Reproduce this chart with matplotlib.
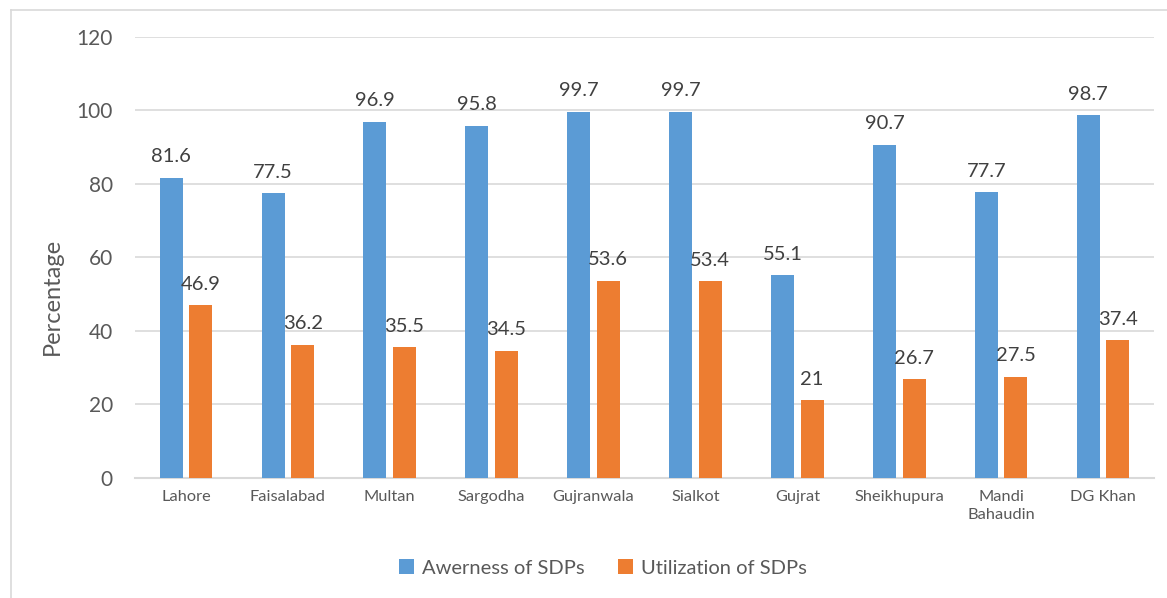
import numpy as np
import matplotlib
matplotlib.use("Agg")
from matplotlib import pyplot as plt
from matplotlib.lines import Line2D

districts = ["Lahore", "Faisalabad", "Multan", "Sargodha", "Gujranwala",
             "Sialkot", "Gujrat", "Sheikhupura", "Mandi\nBahaudin", "DG Khan"]
awareness = [81.6, 77.5, 96.9, 95.8, 99.7, 99.7, 55.1, 90.7, 77.7, 98.7]
utilization = [46.9, 36.2, 35.5, 34.5, 53.6, 53.4, 21, 26.7, 27.5, 37.4]
yticks = [0, 20, 40, 60, 80, 100, 120]

blue = "#5b9bd5"
orange = "#ed7d31"
grey = "#595959"
plt.rcParams['font.family'] = ['Lato', 'DejaVu Sans']

W, H = 1167, 598
fig = plt.figure(figsize=(W / 100, H / 100), dpi=100)
ax = fig.add_axes([135 / W, 1 - 477.5 / H, (1154 - 135) / W, (477.5 - 37) / H])

x = np.arange(len(districts))
bw = 0.226
off = 0.145
b1 = ax.bar(x - off, awareness, bw, color=blue, label="Awerness of SDPs", zorder=3)
b2 = ax.bar(x + off, utilization, bw, color=orange, label="Utilization of SDPs", zorder=3)

for bars, vals in ((b1, awareness), (b2, utilization)):
    for r, v in zip(bars, vals):
        ax.annotate(f"{v:g}", (r.get_x() + r.get_width() / 2, v),
                    xytext=(0, 9), textcoords="offset points",
                    ha="center", va="bottom", fontsize=14.5, color="#404040")

ax.set_xlim(-0.5, len(districts) - 0.5)
ax.set_ylim(0, 120)
ax.set_yticks(yticks)
ax.set_xticks(x)
ax.set_xticklabels(districts, fontsize=11.8, color=grey, linespacing=1.35)
ax.tick_params(axis="y", labelsize=15, labelcolor=grey, length=0, pad=16)
ax.tick_params(axis="x", length=0, pad=9)
ax.grid(axis="y", color="#d9d9d9", linewidth=1.2, zorder=0)
for s in ("top", "right", "left"):
    ax.spines[s].set_visible(False)
ax.spines["bottom"].set_color("#d9d9d9")
ax.spines["bottom"].set_linewidth(1.5)
ax.set_ylabel("Percentage", fontsize=17, color=grey, va="center")
ax.yaxis.set_label_coords(-0.081, 0.41)

fig.legend(handles=[b1, b2], loc="center", bbox_to_anchor=(603 / W, 1 - 568 / H),
           ncol=2, frameon=False, fontsize=14.5, labelcolor=grey,
           handlelength=0.7, handleheight=0.7, columnspacing=1.7, handletextpad=0.4)

# thin outer border, top and left edges
fig.add_artist(Line2D([11 / W, 11 / W], [0, 1 - 10 / H], transform=fig.transFigure,
                      color="#d9d9d9", linewidth=1.2))
fig.add_artist(Line2D([11 / W, 1], [1 - 10 / H, 1 - 10 / H], transform=fig.transFigure,
                      color="#d9d9d9", linewidth=1.2))

fig.savefig("out.png", dpi=100)
